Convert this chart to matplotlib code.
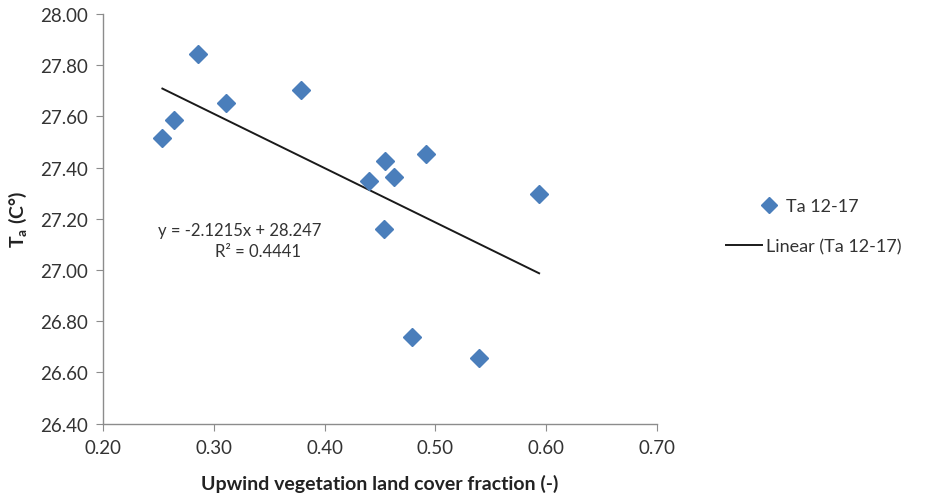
import matplotlib
matplotlib.use("Agg")
import matplotlib.pyplot as plt
import numpy as np

plt.rcParams['font.family'] = ['Lato', 'DejaVu Sans']

veg_fraction = [0.2536, 0.2645, 0.2855, 0.3111, 0.3785, 0.4402, 0.4546, 0.4625,
                0.4914, 0.5937, 0.4537, 0.4785, 0.5395]
ta_values = [27.514, 27.587, 27.843, 27.651, 27.703, 27.348, 27.426, 27.362,
             27.454, 27.298, 27.160, 26.738, 26.657]
slope = -2.1215
intercept = 28.247
r_squared = 0.4441
xticks = [0.20, 0.30, 0.40, 0.50, 0.60, 0.70]
yticks = [26.40, 26.60, 26.80, 27.00, 27.20, 27.40, 27.60, 27.80, 28.00]

fig = plt.figure(figsize=(9.52, 5.02), dpi=100)
ax = fig.add_axes([0.1082, 0.154, 0.5818, 0.816])

pts, = ax.plot(veg_fraction, ta_values, linestyle='none', marker='D', markersize=9.5,
               color='#4A7EBB', label='Ta 12-17', zorder=3)
xl = np.array([min(veg_fraction), max(veg_fraction)])
ln, = ax.plot(xl, slope * xl + intercept, color='#1a1a1a', lw=1.4,
              label='Linear (Ta 12-17)', zorder=2)

ax.set_xlim(0.20, 0.70)
ax.set_ylim(26.40, 28.00)
ax.set_xticks(xticks)
ax.set_yticks(yticks)
ax.set_xticklabels([f"{v:.2f}" for v in xticks])
ax.set_yticklabels([f"{v:.2f}" for v in yticks])
for s in ['top', 'right']:
    ax.spines[s].set_visible(False)
for s in ['left', 'bottom']:
    ax.spines[s].set_color('#8c8c8c')
    ax.spines[s].set_linewidth(1.0)
ax.tick_params(axis='both', direction='out', length=5, color='#8c8c8c',
               labelsize=13.5, labelcolor='#333333', pad=6)

ax.set_xlabel('Upwind vegetation land cover fraction (-)', fontsize=14,
              fontweight='bold', color='#222222', labelpad=13)
ax.set_ylabel('T$_\\mathregular{a}$ (C°)', fontsize=14, fontweight='bold',
              color='#222222', labelpad=8)

ax.text(0.3234, 27.156, f'y = {slope}x + {intercept}', ha='center', va='center',
        fontsize=12, color='#333333')
ax.text(0.3400, 27.074, f'R² = {r_squared}', ha='center', va='center',
        fontsize=12, color='#333333')

leg1 = fig.legend(handles=[pts], loc='center left', bbox_to_anchor=(0.800, 0.588),
                  frameon=False, fontsize=13, handlelength=0.8, handletextpad=0.55,
                  borderpad=0, borderaxespad=0, markerscale=0.85)
leg2 = fig.legend(handles=[ln], loc='center left', bbox_to_anchor=(0.763, 0.508),
                  frameon=False, fontsize=13, handlelength=2.0, handletextpad=0.2,
                  borderpad=0, borderaxespad=0)
for lg in (leg1, leg2):
    for t in lg.get_texts():
        t.set_color('#333333')

fig.savefig('out.png', dpi=100)
